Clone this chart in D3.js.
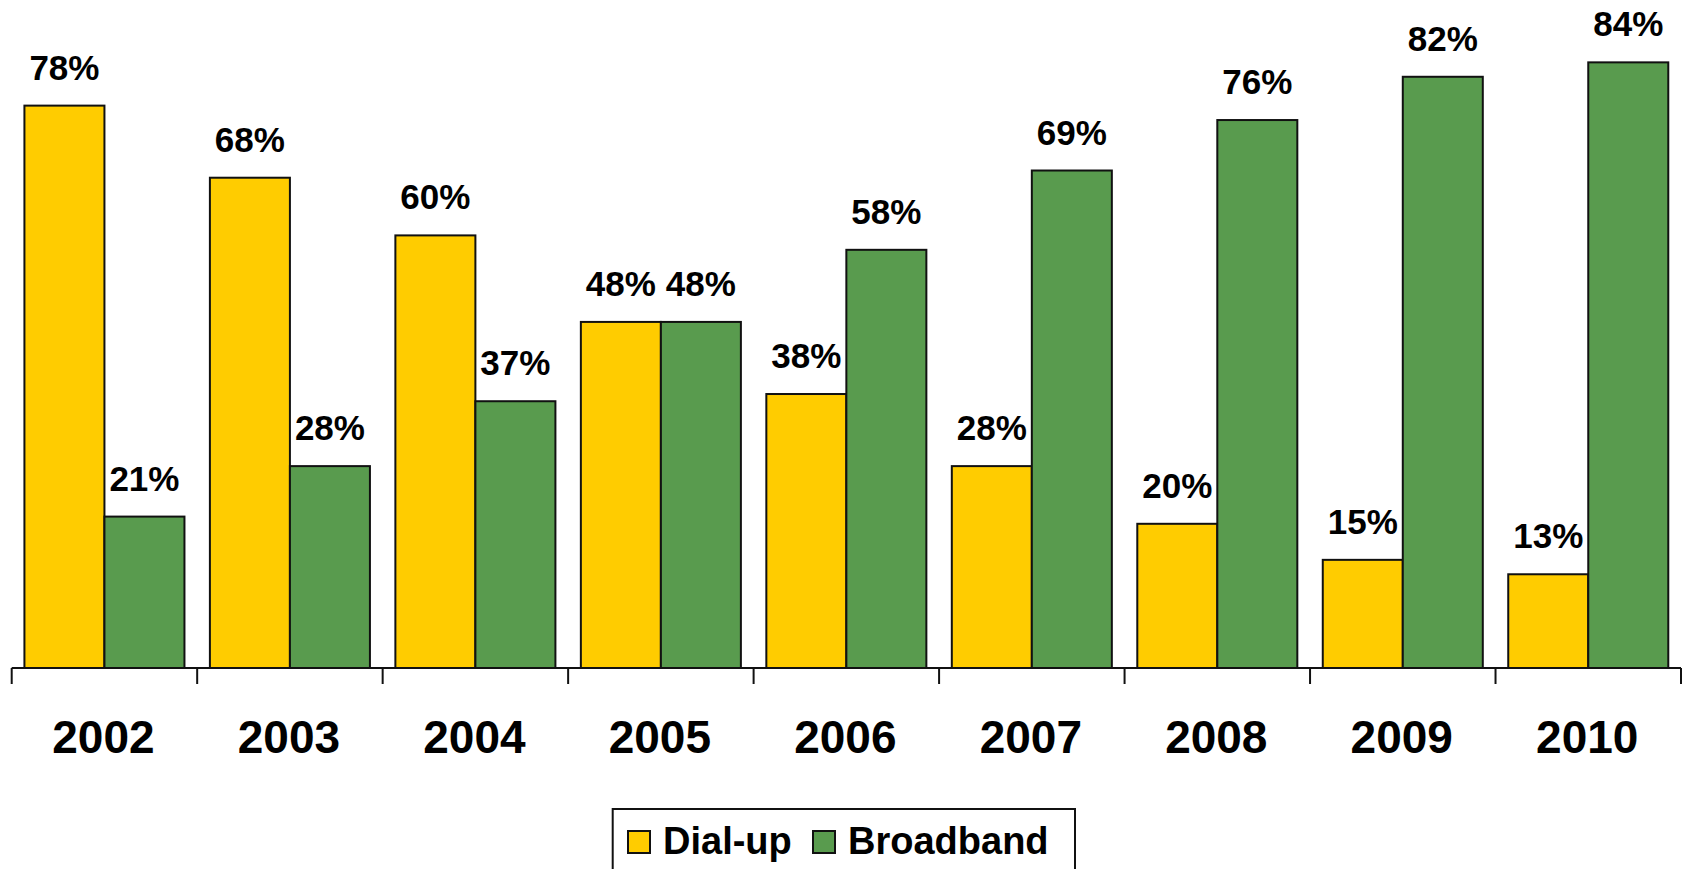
<!DOCTYPE html>
<html>
<head>
<meta charset="utf-8">
<script src="https://cdn.jsdelivr.net/npm/d3@7"></script>
<style>
    html, body { margin: 0; padding: 0; background: #fff; overflow: hidden; }
    svg { display: block; font-family: "Liberation Sans", Arial, sans-serif; font-weight: bold; }
</style>
</head>
<body>
<div id="chart"></div>
<script>
// Chart data
const years = ["2002", "2003", "2004", "2005", "2006", "2007", "2008", "2009", "2010"];
const seriesNames = ["Dial-up", "Broadband"];
const dialup = [78, 68, 60, 48, 38, 28, 20, 15, 13];
const broadband = [21, 28, 37, 48, 58, 69, 76, 82, 84];
const seriesColors = ["#FFCC00", "#599B4E"];

const width = 1687;
const height = 869;
const baseY = 668;

const svg = d3.select("#chart")
    .append("svg")
    .attr("width", width)
    .attr("height", height);

// Scales
const x = d3.scaleBand()
    .domain(years)
    .range([11.7, 1681])
    .padding(0);

const x1 = d3.scaleBand()
    .domain(seriesNames)
    .range([0, x.bandwidth()])
    .paddingInner(0)
    .paddingOuter(0.159);

const y = d3.scaleLinear()
    .domain([0, 90])
    .range([baseY, baseY - 90 * 7.21]);

const color = d3.scaleOrdinal().domain(seriesNames).range(seriesColors);

// Build rows for the grouped bars
const rows = years.map((yr, i) => ({
    year: yr,
    values: [
        { key: "Dial-up", value: dialup[i] },
        { key: "Broadband", value: broadband[i] }
    ]
}));

const groups = svg.append("g")
    .selectAll("g")
    .data(rows)
    .enter().append("g")
    .attr("transform", d => `translate(${x(d.year)},0)`);

groups.selectAll("rect")
    .data(d => d.values)
    .enter().append("rect")
    .attr("x", d => x1(d.key))
    .attr("y", d => y(d.value))
    .attr("width", x1.bandwidth())
    .attr("height", d => y(0) - y(d.value))
    .attr("fill", d => color(d.key))
    .attr("stroke", "#111")
    .attr("stroke-width", 2);

// Value labels
groups.selectAll("text")
    .data(d => d.values)
    .enter().append("text")
    .attr("x", d => x1(d.key) + x1.bandwidth() / 2)
    .attr("y", d => y(d.value) - 26)
    .attr("text-anchor", "middle")
    .style("font-size", "35px")
    .attr("fill", "#000")
    .text(d => d.value + "%");

// X axis with ticks at category boundaries
const axis = svg.append("g").attr("class", "x-axis");
axis.append("line")
    .attr("x1", x.range()[0])
    .attr("x2", x.range()[1])
    .attr("y1", baseY)
    .attr("y2", baseY)
    .attr("stroke", "#111")
    .attr("stroke-width", 2);

const boundaries = years.map(yr => x(yr)).concat([x.range()[1]]);
axis.selectAll("line.tick")
    .data(boundaries)
    .enter().append("line")
    .attr("class", "tick")
    .attr("x1", d => d)
    .attr("x2", d => d)
    .attr("y1", baseY)
    .attr("y2", baseY + 16)
    .attr("stroke", "#111")
    .attr("stroke-width", 2);

axis.selectAll("text")
    .data(years)
    .enter().append("text")
    .attr("x", d => x(d) + x.bandwidth() / 2 - 1)
    .attr("y", 753)
    .attr("text-anchor", "middle")
    .style("font-size", "46px")
    .attr("fill", "#000")
    .text(d => d);

// Legend
const legend = svg.append("g").attr("class", "legend");
legend.append("rect")
    .attr("x", 612.7)
    .attr("y", 809)
    .attr("width", 462.3)
    .attr("height", 90)
    .attr("fill", "#fff")
    .attr("stroke", "#111")
    .attr("stroke-width", 2);

const legendX = [628, 813];
const item = legend.selectAll("g")
    .data(seriesNames)
    .enter().append("g")
    .attr("transform", (d, i) => `translate(${legendX[i]},831)`);

item.append("rect")
    .attr("width", 22)
    .attr("height", 22)
    .attr("fill", d => color(d))
    .attr("stroke", "#111")
    .attr("stroke-width", 2);

item.append("text")
    .attr("x", 35)
    .attr("y", 23)
    .style("font-size", "38px")
    .attr("fill", "#000")
    .text(d => d);
</script>
</body>
</html>
